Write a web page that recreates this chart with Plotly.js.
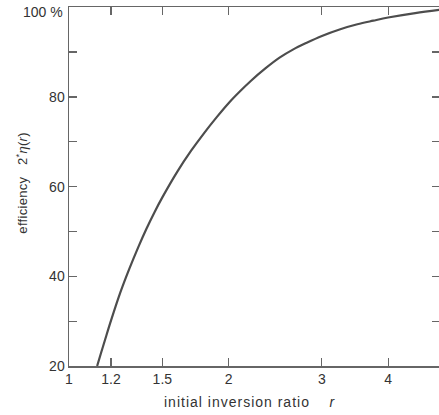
<!DOCTYPE html>
<html>
<head>
<meta charset="utf-8">
<script src="https://cdn.plot.ly/plotly-3.0.1.min.js"></script>
<style>
html,body{margin:0;padding:0;background:#fff;overflow:hidden;}
#wrap{width:439px;height:415px;overflow:hidden;position:relative;}
#chart{width:441px;height:415px;}
#chart g.annotation[data-index="1"] text{letter-spacing:1px;}
#chart g.annotation[data-index="2"] text{letter-spacing:0.3px;}
</style>
</head>
<body>
<div id="wrap"><div id="chart"></div></div>
<script>
// initial inversion ratio r
var ratio = [1.13, 1.15, 1.17, 1.2, 1.25, 1.3, 1.35, 1.4, 1.45, 1.5, 1.6, 1.7, 1.8, 1.9, 2.0, 2.1, 2.2, 2.35, 2.5, 2.65, 2.8, 3.0, 3.25, 3.5, 3.75, 4.0, 4.5, 5.0];
// efficiency in %
var efficiency = [20, 23.0, 25.9, 30.1, 36.4, 41.7, 46.4, 50.6, 54.3, 57.6, 63.3, 68.0, 72.0, 75.5, 78.6, 81.2, 83.5, 86.4, 88.8, 90.6, 92.0, 93.6, 95.1, 96.2, 97.0, 97.7, 98.7, 99.4];

var xTickVals = [1, 1.2, 1.5, 2, 3, 4, 5];
var xTickText = ['1', '1.2', '1.5', '2', '3', '4', '5'];
var yTickVals = [20, 30, 40, 50, 60, 70, 80, 90, 100];
var yTickText = ['20', ' ', '40', ' ', '60', ' ', '80', ' ', ' '];
var topLabel = '100 %';
var xTitle = 'initial inversion ratio&nbsp;&nbsp;&nbsp;&nbsp;<i>r</i>';
var yTitle = 'efficiency&nbsp;&nbsp;&nbsp;2<sup>*</sup><i>η</i>(<i>r</i>)';

var font = {family: 'Liberation Sans, Arial, sans-serif', size: 14, color: '#333'};
var yTitleFont = {family: 'Liberation Sans, Arial, sans-serif', size: 13, color: '#333'};

var trace = {
  x: ratio,
  y: efficiency,
  type: 'scatter',
  mode: 'lines',
  line: {color: '#4d4d4d', width: 2.2, shape: 'spline', smoothing: 1},
  hoverinfo: 'skip',
  cliponaxis: true
};

var layout = {
  width: 441,
  height: 415,
  margin: {l: 69, r: 1, t: 7, b: 49, pad: 0},
  paper_bgcolor: '#fff',
  plot_bgcolor: '#fff',
  showlegend: false,
  font: font,
  xaxis: {
    type: 'log',
    range: [0, Math.log10(5) + 0.001],
    tickmode: 'array',
    tickvals: xTickVals,
    ticktext: xTickText,
    ticks: 'inside',
    ticklen: 8,
    tickwidth: 1.2,
    tickcolor: '#666',
    showline: true,
    linecolor: '#666',
    linewidth: 1.5,
    mirror: 'ticks',
    showgrid: false,
    zeroline: false,
    tickfont: font,
    automargin: false
  },
  yaxis: {
    range: [20, 100.05],
    tickmode: 'array',
    tickvals: yTickVals,
    ticktext: yTickText,
    ticks: 'inside',
    ticklen: 8,
    tickwidth: 1.2,
    tickcolor: '#666',
    showline: true,
    linecolor: '#666',
    linewidth: 1.5,
    mirror: 'ticks',
    showgrid: false,
    zeroline: false,
    tickfont: font,
    automargin: false
  },
  annotations: [
    {text: topLabel, xref: 'paper', yref: 'y', x: 0, y: 100, xanchor: 'right', yanchor: 'middle',
     xshift: -4, yshift: -5, showarrow: false, font: font},
    {text: xTitle, xref: 'paper', yref: 'paper', x: 0.488, y: -0.1, xanchor: 'center', yanchor: 'middle',
     showarrow: false, font: font},
    {text: yTitle, xref: 'paper', yref: 'paper', x: -0.127, y: 0.51, xanchor: 'center', yanchor: 'middle',
     textangle: -90, showarrow: false, font: yTitleFont}
  ]
};

Plotly.newPlot('chart', [trace], layout, {displayModeBar: false, staticPlot: true});
</script>
</body>
</html>
